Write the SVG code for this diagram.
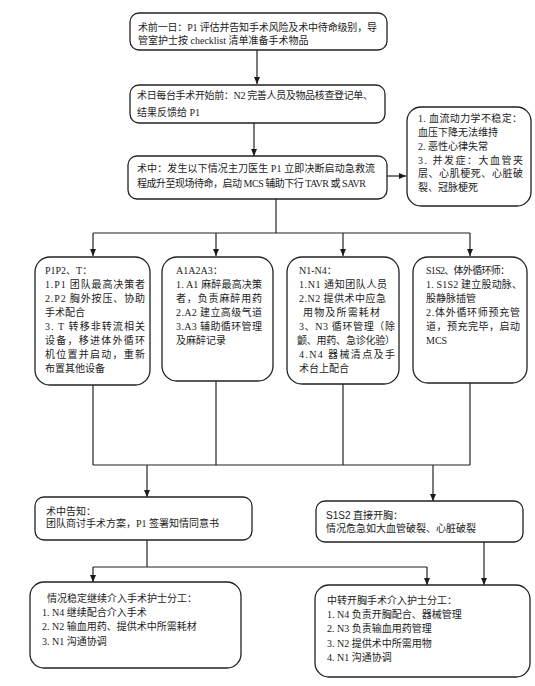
<svg xmlns="http://www.w3.org/2000/svg" width="535" height="686" viewBox="0 0 535 686">
<defs>
<marker id="ah" markerWidth="8" markerHeight="8" refX="7" refY="4" orient="auto" markerUnits="userSpaceOnUse">
<path d="M0,1 L7,4 L0,7 Z" fill="#1a1a1a"/>
</marker>
<style>
.box{fill:#fff;stroke:#222;stroke-width:1.3}
.t{font-family:"Liberation Serif","Noto Sans CJK SC",serif;font-size:10px;fill:#222}
.c{fill:none;stroke:#222;stroke-width:1.2}
.a{fill:none;stroke:#222;stroke-width:1.2;marker-end:url(#ah)}
</style>
</defs>
<rect width="535" height="686" fill="#fff"/>
<g id="connectors">
<line class="a" x1="257" y1="50" x2="257" y2="84"/>
<line class="a" x1="254" y1="123" x2="254" y2="156"/>
<line class="a" x1="387" y1="176" x2="406" y2="176"/>
<line class="c" x1="276" y1="199" x2="276" y2="233"/>
<line class="c" x1="93" y1="233" x2="470" y2="233"/>
<line class="a" x1="93" y1="233" x2="93" y2="256"/>
<line class="a" x1="216" y1="233" x2="216" y2="256"/>
<line class="a" x1="343" y1="233" x2="343" y2="256"/>
<line class="a" x1="470" y1="233" x2="470" y2="256"/>
<line class="c" x1="93" y1="385" x2="93" y2="465"/>
<line class="c" x1="216" y1="381" x2="216" y2="465"/>
<line class="c" x1="343" y1="384" x2="343" y2="465"/>
<line class="c" x1="470" y1="383" x2="470" y2="465"/>
<line class="c" x1="93" y1="465" x2="470" y2="465"/>
<line class="a" x1="147" y1="465" x2="147" y2="497"/>
<line class="a" x1="433" y1="465" x2="433" y2="501"/>
<line class="c" x1="147" y1="540" x2="147" y2="567"/>
<line class="c" x1="93" y1="567" x2="427" y2="567"/>
<line class="a" x1="93" y1="567" x2="93" y2="582"/>
<line class="a" x1="427" y1="567" x2="427" y2="585"/>
<line class="a" x1="484" y1="542" x2="484" y2="585"/>
</g>
<g id="n1">
<rect class="box" x="130" y="13" width="257" height="37" rx="9"/>
<text class="t" x="138" y="31" textLength="239" lengthAdjust="spacing">术前一日：P1 评估并告知手术风险及术中待命级别，导</text>
<text class="t" x="138" y="44">管室护士按 checklist 清单准备手术物品</text>
</g>
<g id="n2">
<rect class="box" x="130" y="85" width="255" height="38" rx="9"/>
<text class="t" x="137" y="98.5" textLength="236" lengthAdjust="spacing">术日每台手术开始前：N2 完善人员及物品核查登记单、</text>
<text class="t" x="137" y="115.5">结果反馈给 P1</text>
</g>
<g id="n3">
<rect class="box" x="128" y="156" width="259" height="43" rx="9"/>
<text class="t" x="137" y="172" textLength="238" lengthAdjust="spacing">术中：发生以下情况主刀医生 P1 立即决断启动急救流</text>
<text class="t" x="137" y="187" textLength="229" lengthAdjust="spacing">程成升至现场待命，启动 MCS 辅助下行 TAVR 或 SAVR</text>
</g>
<g id="n4">
<rect class="box" x="407" y="107" width="124" height="99" rx="14"/>
<text class="t" x="418" y="122" textLength="104" lengthAdjust="spacing">1. 血流动力学不稳定：</text>
<text class="t" x="418" y="136">血压下降无法维持</text>
<text class="t" x="418" y="149.5">2. 恶性心律失常</text>
<text class="t" x="418" y="163.5" textLength="105" lengthAdjust="spacing">3. 并发症：大血管夹</text>
<text class="t" x="418" y="177" textLength="105" lengthAdjust="spacing">层、心肌梗死、心脏破</text>
<text class="t" x="418" y="191">裂、冠脉梗死</text>
</g>
<g id="col1">
<rect class="box" x="35" y="257" width="115" height="128" rx="15"/>
<text class="t" x="45" y="273.5">P1P2、T：</text>
<text class="t" x="45" y="287.6" textLength="100" lengthAdjust="spacing">1.P1 团队最高决策者</text>
<text class="t" x="45" y="301.7" textLength="100" lengthAdjust="spacing">2.P2 胸外按压、协助</text>
<text class="t" x="45" y="315.8">手术配合</text>
<text class="t" x="45" y="329.9" textLength="100" lengthAdjust="spacing">3. T 转移非转流相关</text>
<text class="t" x="45" y="344" textLength="100" lengthAdjust="spacing">设备，移进体外循环</text>
<text class="t" x="45" y="358.1" textLength="100" lengthAdjust="spacing">机位置并启动，重新</text>
<text class="t" x="45" y="372.2">布置其他设备</text>
</g>
<g id="col2">
<rect class="box" x="162" y="257" width="111" height="124" rx="15"/>
<text class="t" x="176" y="273.5">A1A2A3：</text>
<text class="t" x="176" y="287.6" textLength="86" lengthAdjust="spacing">1. A1 麻醉最高决策</text>
<text class="t" x="176" y="301.7" textLength="86" lengthAdjust="spacing">者，负责麻醉用药</text>
<text class="t" x="176" y="315.8" textLength="86" lengthAdjust="spacing">2.A2 建立高级气道</text>
<text class="t" x="176" y="329.9" textLength="86" lengthAdjust="spacing">3.A3 辅助循环管理</text>
<text class="t" x="176" y="344">及麻醉记录</text>
</g>
<g id="col3">
<rect class="box" x="287" y="257" width="112" height="127" rx="15"/>
<text class="t" x="299" y="273.5">N1-N4：</text>
<text class="t" x="299" y="287.6" textLength="88" lengthAdjust="spacing">1.N1 通知团队人员</text>
<text class="t" x="299" y="301.7" textLength="87" lengthAdjust="spacing">2.N2 提供术中应急</text>
<text class="t" x="303" y="315.8" textLength="77" lengthAdjust="spacing">用物及所需耗材</text>
<text class="t" x="299" y="329.9" textLength="96" lengthAdjust="spacing">3、N3 循环管理（除</text>
<text class="t" x="297" y="344" textLength="98" lengthAdjust="spacing">颤、用药、急诊化验）</text>
<text class="t" x="299" y="358.1" textLength="96" lengthAdjust="spacing">4.N4 器械清点及手</text>
<text class="t" x="299" y="372.2">术台上配合</text>
</g>
<g id="col4">
<rect class="box" x="413" y="257" width="114" height="126" rx="15"/>
<text class="t" x="426" y="273.5" textLength="84" lengthAdjust="spacing">S1S2、体外循环师：</text>
<text class="t" x="426" y="287.6" textLength="96" lengthAdjust="spacing">1. S1S2 建立股动脉、</text>
<text class="t" x="426" y="301.7">股静脉插管</text>
<text class="t" x="426" y="315.8" textLength="94" lengthAdjust="spacing">2.体外循环师预充管</text>
<text class="t" x="426" y="329.9" textLength="94" lengthAdjust="spacing">道，预充完毕，启动</text>
<text class="t" x="426" y="344">MCS</text>
</g>
<g id="n5">
<rect class="box" x="35" y="497" width="217" height="43" rx="9"/>
<text class="t" x="46" y="514.5">术中告知：</text>
<text class="t" x="46" y="527">团队商讨手术方案，P1 签署知情同意书</text>
</g>
<g id="n6">
<rect class="box" x="316" y="501" width="207" height="41" rx="9"/>
<text class="t" x="326" y="518.5"><tspan font-family="'Liberation Sans',sans-serif">S1S2</tspan> 直接开胸：</text>
<text class="t" x="326" y="531.5">情况危急如大血管破裂、心脏破裂</text>
</g>
<g id="n7">
<rect class="box" x="30" y="582" width="211" height="86" rx="14"/>
<text class="t" x="47" y="601.5">情况稳定继续介入手术护士分工：</text>
<text class="t" x="42" y="615.5">1. N4 继续配合介入手术</text>
<text class="t" x="42" y="630">2. N2 输血用药、提供术中所需耗材</text>
<text class="t" x="42" y="644.5">3. N1 沟通协调</text>
</g>
<g id="n8">
<rect class="box" x="315" y="585" width="215" height="92" rx="14"/>
<text class="t" x="327" y="603.5">中转开胸手术介入护士分工：</text>
<text class="t" x="327" y="618">1. N4 负责开胸配合、器械管理</text>
<text class="t" x="327" y="632">2. N3 负责输血用药管理</text>
<text class="t" x="327" y="646.5">3. N2 提供术中所需用物</text>
<text class="t" x="327" y="661">4. N1 沟通协调</text>
</g>
</svg>
